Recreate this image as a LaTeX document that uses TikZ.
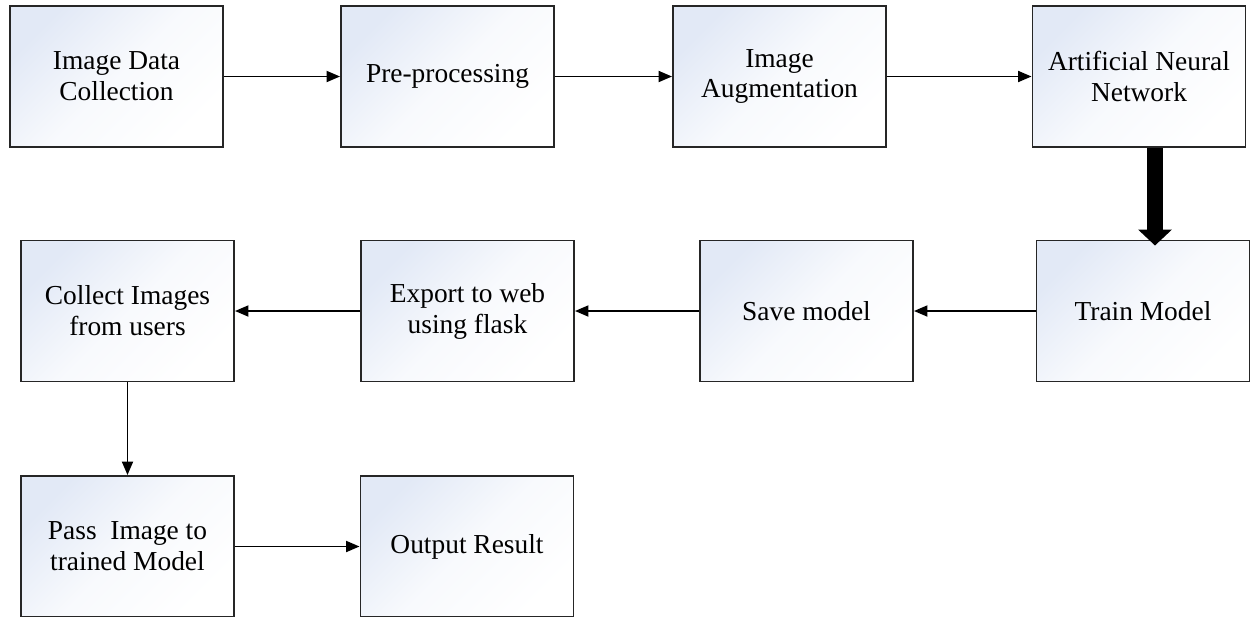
\documentclass[tikz,border=0pt]{standalone}
\usepackage{fontspec}
\setmainfont{Liberation Serif}
\usetikzlibrary{arrows.meta}
\definecolor{boxtint}{RGB}{226,233,246}

\begin{document}
\begin{tikzpicture}[
  stagebox/.style={draw=black!85, line width=1.1pt, minimum width=4.26cm, minimum height=2.82cm,
    inner sep=0pt, align=center, top color=boxtint, bottom color=white, middle color=boxtint!25!white,
    shading angle=45, font=\fontsize{15.6}{17.6}\selectfont},
  flow/.style={line width=1.1pt, -{Triangle[length=0.27cm,width=0.22cm]}},
  bigflow/.style={line width=9pt, -{Triangle[length=0.32cm,width=0.66cm]}, shorten >=-0.12cm}]
\useasboundingbox (0,0) rectangle (25.02,-12.32);
% first row
\node[stagebox] (collect) at (2.33,-1.53) {Image Data\\Collection};
\node[stagebox] (prep) at (8.95,-1.53) {Pre-processing};
\node[stagebox] (augm) at (15.59,-1.53) {Image\\Augmentation};
\node[stagebox] (ann) at (22.78,-1.53) {Artificial Neural\\Network};
% second row
\node[stagebox] (users) at (2.55,-6.22) {Collect Images\\from users};
\node[stagebox] (export) at (9.35,-6.22) {Export to web\\using flask};
\node[stagebox] (save) at (16.13,-6.22) {Save model};
\node[stagebox] (train) at (22.86,-6.22) {Train Model};
% third row
\node[stagebox] (pass) at (2.55,-10.93) {Pass~ Image to\\trained Model};
\node[stagebox] (result) at (9.34,-10.93) {Output Result};

\coordinate (thk) at (23.1,0);

\draw[flow] (collect) -- (prep);
\draw[flow] (prep) -- (augm);
\draw[flow] (augm) -- (ann);
\draw[bigflow] (ann.south -| thk) -- (train.north -| thk);
\draw[flow] (train) -- (save);
\draw[flow] (save) -- (export);
\draw[flow] (export) -- (users);
\draw[flow] (users) -- (pass);
\draw[flow] (pass) -- (result);

\end{tikzpicture}
\end{document}
